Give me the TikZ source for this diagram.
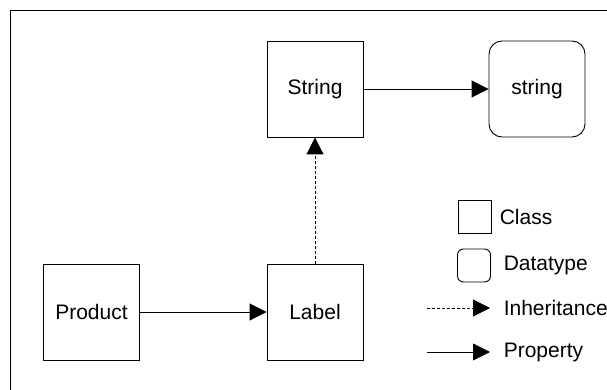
\documentclass[tikz,border=0pt]{standalone}
\usepackage{fontspec}
\setmainfont{Liberation Sans}
\usetikzlibrary{arrows.meta}

\tikzset{
  classbox/.style={draw, minimum width=96pt, minimum height=96pt, inner sep=0pt},
  typebox/.style={classbox, rounded corners=13pt},
  keybox/.style={draw, minimum size=33pt, inner sep=0pt},
  prop/.style={-{Triangle[length=17pt,width=17pt]}},
  inherit/.style={prop, dash pattern=on 3pt off 2pt},
}

\begin{document}
\begin{tikzpicture}[x=1pt,y=-1pt,line width=0.9pt,font=\fontsize{21}{25}\selectfont]
\useasboundingbox (0,0) rectangle (607,390);
\draw (10,390) -- (10,10) -- (607,10); % frame, cut at right and bottom

% classes and datatype
\node[classbox] (product) at (91.5,312) {Product};
\node[classbox] (label) at (315,312) {Label};
\node[classbox] (strcls) at (315,89) {String};
\node[typebox] (strtype) at (537,89) {string};

\draw[prop] (product) -- (label);
\draw[prop] (strcls) -- (strtype);
\draw[inherit] (label) -- (strcls);

% legend
\node[keybox] (keyclass) at (474.5,217) {};
\node[keybox, rounded corners=6pt] (keytype) at (474,265.5) {};
\begin{scope}[anchor=west]
\node (txtclass) at (496,217) {Class};
\node (txttype) at (500,265) {Datatype};
\node (txtinherit) at (500,308) {Inheritance};
\node (txtprop) at (500,352) {Property};
\end{scope}
\coordinate (inhstart) at (427,308);
\coordinate (inhend) at (490,308);
\coordinate (propstart) at (427,352);
\coordinate (propend) at (490,352);
\draw[inherit] (inhstart) -- (inhend);
\draw[prop] (propstart) -- (propend);
\end{tikzpicture}
\end{document}
